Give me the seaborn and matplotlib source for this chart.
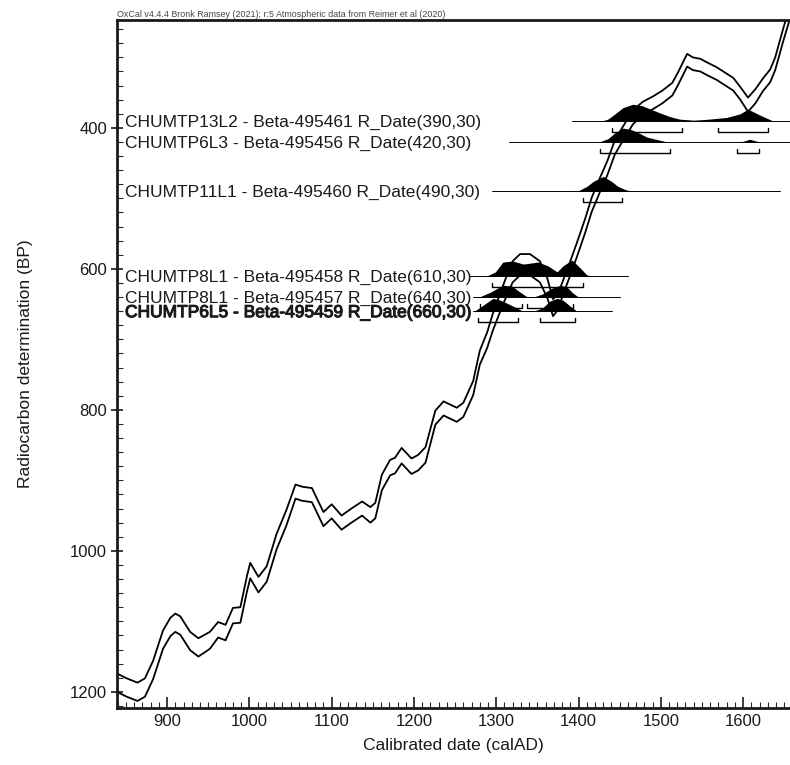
import numpy as np
import pandas as pd
import matplotlib
matplotlib.use("Agg")
import matplotlib.pyplot as plt
import matplotlib.patheffects as pe
from matplotlib.ticker import MultipleLocator
import seaborn as sns

# Calibration curve (IntCal20): centre value and 1 sigma
curve_year = [839, 851, 864, 873, 883, 895, 904, 910, 916, 928, 938, 952, 962, 971, 980, 989,
              997, 1001, 1011, 1021, 1033, 1045, 1056, 1064, 1076, 1090, 1100, 1112, 1124, 1137,
              1147, 1153, 1161, 1171, 1177, 1185, 1197, 1205, 1214, 1226, 1236, 1252, 1260, 1272,
              1280, 1289, 1296, 1305, 1313, 1320, 1329, 1341, 1353, 1362, 1369, 1375, 1381, 1390,
              1398, 1408, 1416, 1426, 1435, 1444, 1453, 1466, 1478, 1491, 1502, 1514, 1521, 1532,
              1539, 1548, 1556, 1568, 1580, 1588, 1596, 1606, 1615, 1624, 1633, 1639, 1649, 1657]
curve_bp = [1187, 1194, 1200, 1194, 1169, 1126, 1108, 1102, 1106, 1128, 1137, 1127, 1112, 1116,
            1092, 1091, 1047, 1028, 1048, 1033, 987, 953, 916, 919, 921, 955, 944, 960, 950, 940,
            949, 943, 903, 882, 879, 865, 880, 875, 864, 811, 798, 807, 800, 769, 726, 701, 675,
            647, 623, 604, 594, 594, 604, 627, 655, 647, 627, 599, 573, 539, 509, 481, 457, 428,
            410, 385, 372, 364, 356, 345, 330, 304, 309, 311, 316, 323, 332, 338, 350, 367, 355,
            339, 326, 309, 267, 236]
curve_sigma = [13, 13, 13, 13, 13, 13, 13, 13, 13, 13, 13, 12, 11, 11, 11, 11, 11, 11, 11, 11,
               11, 11, 10, 10, 10, 10, 10, 10, 10, 10, 11, 11, 11, 11, 11, 11, 11, 11, 11, 10,
               10, 10, 10, 10, 10, 11, 12, 13, 14, 15, 15, 15, 15, 14, 12, 11, 10, 10, 10, 10,
               10, 10, 10, 10, 10, 10, 9, 9, 9, 9, 9, 9, 9, 9, 9, 9, 9, 9, 9, 10, 10, 9, 9, 9, 9, 9]

# Radiocarbon dates
labels = ["CHUMTP13L2 - Beta-495461 R_Date(390,30)",
          "CHUMTP6L3 - Beta-495456 R_Date(420,30)",
          "CHUMTP11L1 - Beta-495460 R_Date(490,30)",
          "CHUMTP8L1 - Beta-495458 R_Date(610,30)",
          "CHUMTP8L1 - Beta-495457 R_Date(640,30)",
          "CHUMTP6L5 - Beta-495459 R_Date(660,30)"]
date_bp = [390, 420, 490, 610, 640, 660]

# calibrated distributions (relative probability)
dist_years = [
    [1428, 1435, 1444, 1454, 1466, 1477, 1487, 1499, 1511, 1523, 1540, 1556, 1580, 1596, 1606, 1620, 1636],
    [1425, 1436, 1444, 1454, 1463, 1471, 1483, 1499, 1508, 1592, 1600, 1608, 1617, 1624],
    [1392, 1400, 1410, 1418, 1430, 1440, 1448, 1457, 1465],
    [1285, 1290, 1299, 1308, 1320, 1333, 1351, 1363, 1374, 1381, 1392, 1402, 1410, 1416],
    [1275, 1280, 1293, 1308, 1319, 1329, 1337, 1347, 1356, 1368, 1378, 1386, 1393, 1400],
    [1270, 1274, 1284, 1296, 1305, 1313, 1323, 1331, 1347, 1356, 1365, 1374, 1381, 1390, 1398],
]
dist_prob = [
    [0, 0.08, 0.4, 0.78, 0.98, 0.9, 0.7, 0.47, 0.25, 0.1, 0.04, 0.09, 0.2, 0.41, 0.69, 0.35, 0],
    [0, 0.2, 0.53, 0.82, 0.75, 0.59, 0.29, 0.1, 0, 0, 0.04, 0.16, 0.04, 0],
    [0, 0.04, 0.29, 0.59, 0.88, 0.59, 0.29, 0.1, 0],
    [0, 0.03, 0.24, 0.82, 0.88, 0.7, 0.82, 0.59, 0.24, 0.59, 0.94, 0.47, 0.06, 0],
    [0, 0.02, 0.29, 0.7, 0.65, 0.29, 0.03, 0.03, 0.18, 0.53, 0.7, 0.59, 0.24, 0],
    [0, 0.02, 0.35, 0.76, 0.65, 0.47, 0.24, 0.03, 0.03, 0.18, 0.59, 0.76, 0.65, 0.29, 0],
]
# extent of the thin baseline of each distribution
line_span = [(1392, 1700), (1316, 1700), (1295, 1645), (1268, 1460), (1272, 1451), (1272, 1441)]
# 95.4% ranges
ranges = [
    [(1441, 1526), (1570, 1630)],
    [(1426, 1511), (1593, 1619)],
    [(1406, 1453)],
    [(1295, 1405)],
    [(1280, 1331), (1337, 1393)],
    [(1278, 1327), (1353, 1396)],
]

sns.set_theme(style="ticks")
plt.rcParams["font.family"] = ["Liberation Sans", "DejaVu Sans"]

fig = plt.figure(figsize=(7.9, 7.65), dpi=100)
ax = fig.add_axes([0.148, 0.0745, 0.852, 0.8993])

curve = pd.DataFrame({"year": curve_year, "bp": curve_bp, "sigma": curve_sigma})
curve["upper"] = curve["bp"] - curve["sigma"]
curve["lower"] = curve["bp"] + curve["sigma"]
sns.lineplot(data=curve, x="year", y="upper", color="black", lw=1.3, sort=False, ax=ax)
sns.lineplot(data=curve, x="year", y="lower", color="black", lw=1.3, sort=False, ax=ax)

scale = 24      # BP units for a relative probability of 1
offset = 15.5   # bracket distance below baseline
tick_h = 5.5
trans = ax.get_yaxis_transform()
for i, bp in enumerate(date_bp):
    yrs = np.array(dist_years[i])
    p = np.array(dist_prob[i])
    ax.plot(line_span[i], [bp, bp], color="black", lw=0.7)
    ax.fill_between(yrs, bp, bp - p * scale, color="black", lw=0)
    for a, b in ranges[i]:
        yb = bp + offset
        ax.plot([a, a, b, b], [yb - tick_h, yb, yb, yb - tick_h], color="black", lw=1.0)
    txt = ax.text(0.012, bp, labels[i], transform=trans, ha="left", va="center_baseline",
                  fontsize=12.5, color="#1a1a1a")
    if bp == 660:
        txt.set_path_effects([pe.withStroke(linewidth=0.8, foreground="#1a1a1a")])

ax.set_xlim(839, 1657)
ax.set_ylim(1223, 247)
ax.xaxis.set_major_locator(MultipleLocator(100))
ax.xaxis.set_minor_locator(MultipleLocator(10))
ax.yaxis.set_major_locator(MultipleLocator(200))
ax.yaxis.set_minor_locator(MultipleLocator(20))
ax.tick_params(axis="x", which="major", direction="in", length=8, width=1.2, labelsize=12,
               colors="#1a1a1a", pad=4)
ax.tick_params(axis="x", which="minor", direction="in", length=4, width=0.8)
ax.tick_params(axis="y", which="major", direction="inout", length=8, width=1.2, labelsize=12,
               colors="#1a1a1a", pad=3)
ax.tick_params(axis="y", which="minor", direction="in", length=4, width=0.8)

for s in ["left", "bottom", "top"]:
    ax.spines[s].set_linewidth(2)
    ax.spines[s].set_color("#1a1a1a")
ax.spines["right"].set_visible(False)

ax.set_xlabel("Calibrated date (calAD)", fontsize=12.5, color="#1a1a1a")
ax.set_ylabel("Radiocarbon determination (BP)", fontsize=12.5, color="#1a1a1a")
ax.xaxis.set_label_coords(0.5, -0.043)
ax.yaxis.set_label_coords(-0.125, 0.5)

fig.text(0.148, 0.975, "OxCal v4.4.4 Bronk Ramsey (2021); r:5 Atmospheric data from Reimer et al (2020)",
         fontsize=6.4, color="#444444", ha="left", va="bottom")

fig.savefig("out.png", dpi=100)
